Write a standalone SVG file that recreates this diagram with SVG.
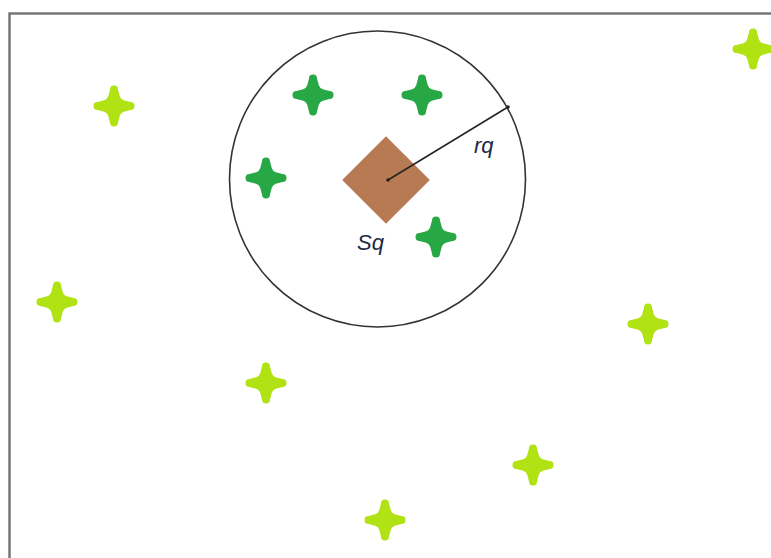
<svg xmlns="http://www.w3.org/2000/svg" xmlns:xlink="http://www.w3.org/1999/xlink" width="771" height="558" viewBox="0 0 771 558">
<style>
.frame{fill:none;stroke:#777;stroke-width:2.5}
.circ{fill:none;stroke:#333;stroke-width:1.6}
.dark{fill:#27a844}
.light{fill:#b0e214}
.lbl{font-family:"Liberation Sans",Arial,sans-serif;font-style:italic;font-size:22px;fill:#1c2a48}
</style>
<defs>
<path id="star" d="M-4,-16.5 A4,4 0 0 1 4,-16.5 L5.8,-9.8 Q6.8,-6.8 9.8,-5.8 L16.5,-4 A4,4 0 0 1 16.5,4 L9.8,5.8 Q6.8,6.8 5.8,9.8 L4,16.5 A4,4 0 0 1 -4,16.5 L-5.8,9.8 Q-6.8,6.8 -9.8,5.8 L-16.5,4 A4,4 0 0 1 -16.5,-4 L-9.8,-5.8 Q-6.8,-6.8 -5.8,-9.8 Z"/>
</defs>
<rect width="771" height="558" fill="#fff"/>
<path class="frame" d="M9.5,558 V13.5 H771"/>
<g id="query-region">
<circle class="circ" cx="377.5" cy="179" r="148"/>
</g>
<g id="query">
<rect x="355" y="149" width="62" height="62" fill="#b87a53" transform="rotate(45 386 180)"/>
<text class="lbl" x="357" y="250">Sq</text>
</g>
<g id="connectors">
<line x1="388" y1="180" x2="508" y2="107" stroke="#222" stroke-width="1.5"/>
<circle cx="388" cy="180" r="1.8" fill="#222"/>
<circle cx="508" cy="107" r="1.8" fill="#222"/>
<text class="lbl" x="474" y="153">rq</text>
</g>
<g id="in1" class="dark"><use xlink:href="#star" x="313" y="95"/></g>
<g id="in2" class="dark"><use xlink:href="#star" x="422" y="95"/></g>
<g id="in3" class="dark"><use xlink:href="#star" x="266" y="178"/></g>
<g id="in4" class="dark"><use xlink:href="#star" x="436" y="237"/></g>
<g id="out1" class="light"><use xlink:href="#star" x="114" y="106"/></g>
<g id="out2" class="light"><use xlink:href="#star" x="753" y="49"/></g>
<g id="out3" class="light"><use xlink:href="#star" x="57" y="302"/></g>
<g id="out4" class="light"><use xlink:href="#star" x="648" y="324"/></g>
<g id="out5" class="light"><use xlink:href="#star" x="266" y="383"/></g>
<g id="out6" class="light"><use xlink:href="#star" x="533" y="465"/></g>
<g id="out7" class="light"><use xlink:href="#star" x="385" y="520"/></g>
</svg>
